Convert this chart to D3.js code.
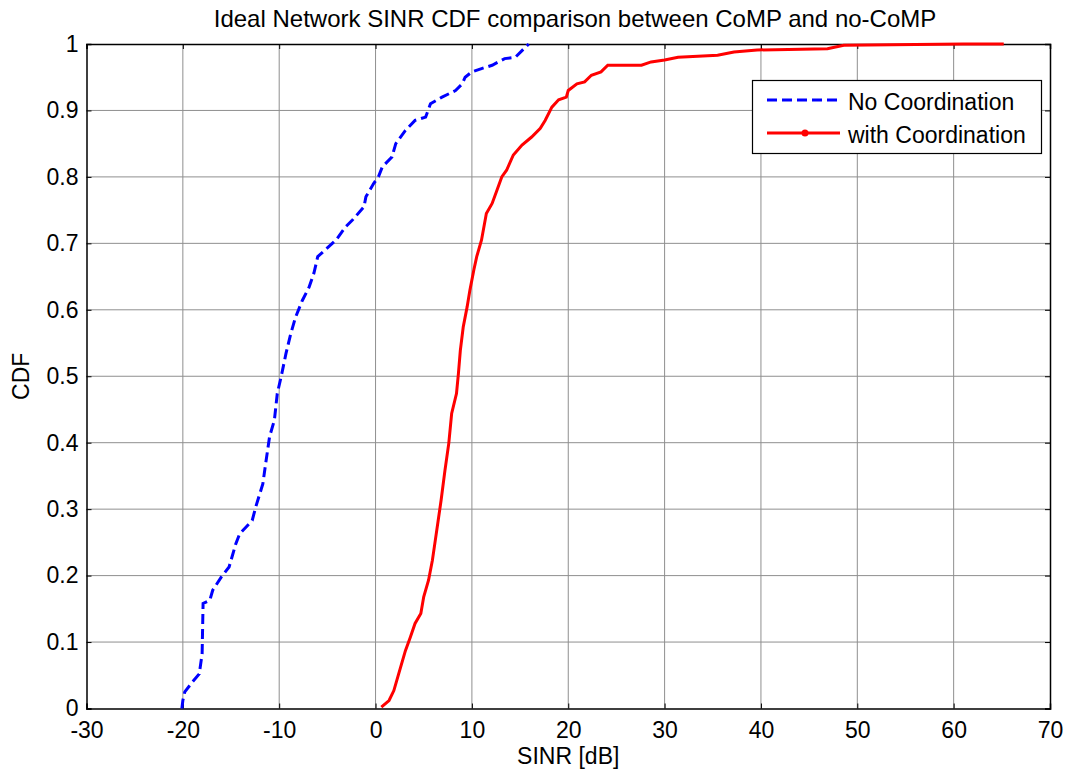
<!DOCTYPE html>
<html>
<head>
<meta charset="utf-8">
<script src="https://cdn.jsdelivr.net/npm/d3@7"></script>
<style>
  body { margin: 0; background: #fff; }
  svg text { font-family: "Liberation Sans", Arial, sans-serif; fill: #000; }
</style>
</head>
<body>
<svg id="chart" width="1070" height="769"></svg>
<script>
const title = "Ideal Network SINR CDF comparison between CoMP and no-CoMP";
const xLabel = "SINR [dB]";
const yLabel = "CDF";
const xTicks = [-30, -20, -10, 0, 10, 20, 30, 40, 50, 60, 70];
const yTicks = [0, 0.1, 0.2, 0.3, 0.4, 0.5, 0.6, 0.7, 0.8, 0.9, 1];
const seriesNames = ["No Coordination", "with Coordination"];

// No Coordination (blue dashed)
const noCoordX = [-20.1, -20.0, -19.8, -19.0, -18.3, -18.0, -17.9, -17.2, -16.9, -16.0, -15.2, -14.5, -14.1,
  -12.8, -12.4, -11.7, -11.4, -11.0, -10.5, -10.2, -9.8, -9.3, -8.8, -8.3, -7.6, -6.9, -6.4, -6.0,
  -4.1, -3.1, -2.4, -1.2, -1.0, -0.2, 0.3, 0.7, 1.7, 2.1, 3.1, 4.1, 5.2, 5.7, 6.9, 8.3, 9.0, 9.3,
  10.0, 11.0, 12.1, 13.4, 14.5, 15.2, 15.9];
const noCoordY = [0.0, 0.012, 0.025, 0.04, 0.052, 0.082, 0.158, 0.163, 0.178, 0.198, 0.213, 0.248, 0.263,
  0.283, 0.305, 0.338, 0.369, 0.409, 0.434, 0.474, 0.499, 0.534, 0.564, 0.589, 0.614, 0.634, 0.655, 0.68,
  0.705, 0.725, 0.735, 0.755, 0.77, 0.79, 0.80, 0.815, 0.83, 0.85, 0.87, 0.885, 0.89, 0.91, 0.92, 0.93, 0.94, 0.95,
  0.958, 0.963, 0.968, 0.978, 0.98, 0.99, 1.0];

// with Coordination (red solid)
const coordX = [0.6, 1.4, 1.9, 2.4, 3.1, 3.6, 4.1, 4.7, 5.0, 5.5, 5.9, 6.2, 6.5, 6.8, 7.2, 7.6, 7.9, 8.4, 8.6,
  8.8, 9.1, 9.5, 9.8, 10.2, 10.5, 11.0, 11.5, 12.1, 12.6, 13.1, 13.6, 14.3, 15.2, 16.2, 17.1, 17.6, 18.3,
  19.0, 19.8, 20.0, 20.9, 21.7, 22.4, 23.4, 24.1, 27.6, 28.6, 30.0, 31.4, 35.5, 37.2, 39.6, 46.9, 48.6, 61.0, 65.2];
const coordY = [0.002, 0.012, 0.027, 0.052, 0.087, 0.107, 0.128, 0.143, 0.168, 0.193, 0.223, 0.253, 0.283, 0.313,
  0.358, 0.399, 0.444, 0.474, 0.504, 0.539, 0.574, 0.604, 0.63, 0.66, 0.68, 0.705, 0.745, 0.76, 0.78, 0.80, 0.81,
  0.833, 0.848, 0.86, 0.873, 0.885, 0.905, 0.916, 0.92, 0.93, 0.94, 0.943, 0.953, 0.958, 0.968, 0.968, 0.973,
  0.976, 0.98, 0.983, 0.988, 0.991, 0.993, 0.998, 1.0, 1.0];

(function () {
const svg = d3.select("#chart");
const mLeft = 86.5, mRight = 1050, mTop = 44, mBottom = 708.5;
const x = d3.scaleLinear().domain([-30, 70]).range([mLeft, mRight]);
const y = d3.scaleLinear().domain([0, 1]).range([mBottom, mTop]);
const fontSize = 23;

// grid
const grid = svg.append("g");
grid.selectAll(".gx").data(xTicks.slice(1, -1)).join("line")
  .attr("x1", d => x(d)).attr("x2", d => x(d)).attr("y1", mTop).attr("y2", mBottom)
  .attr("stroke", "#8f8f8f").attr("stroke-width", 1);
grid.selectAll(".gy").data(yTicks.slice(1, -1)).join("line")
  .attr("x1", mLeft).attr("x2", mRight).attr("y1", d => y(d)).attr("y2", d => y(d))
  .attr("stroke", "#8f8f8f").attr("stroke-width", 1);

// axes (ticks inward)
const axB = svg.append("g").attr("transform", `translate(0,${mBottom})`)
  .call(d3.axisBottom(x).tickValues(xTicks).tickSize(-5).tickPadding(13).tickFormat(d => String(d)));
const axT = svg.append("g").attr("transform", `translate(0,${mTop})`)
  .call(d3.axisTop(x).tickValues(xTicks).tickSize(-5).tickFormat(""));
const axL = svg.append("g").attr("transform", `translate(${mLeft},0)`)
  .call(d3.axisLeft(y).tickValues(yTicks).tickSize(-5).tickPadding(8).tickFormat(d => String(+d.toFixed(1))));
const axR = svg.append("g").attr("transform", `translate(${mRight},0)`)
  .call(d3.axisRight(y).tickValues(yTicks).tickSize(-5).tickFormat(""));
[axB, axT, axL, axR].forEach(a => {
  a.select(".domain").attr("stroke", "#000").attr("stroke-width", 1.5);
  a.selectAll(".tick line").attr("stroke", "#000").attr("stroke-width", 1);
  a.selectAll("text").attr("font-size", fontSize).attr("font-family", "Liberation Sans, Arial, sans-serif").attr("fill", "#000");
});
axB.selectAll("text").attr("dy", "0.72em");

// lines
const line = d3.line().x(d => x(d[0])).y(d => y(d[1]));
const blueData = noCoordX.map((v, i) => [v, noCoordY[i]]);
const redData = coordX.map((v, i) => [v, coordY[i]]);
svg.append("clipPath").attr("id", "clip").append("rect")
  .attr("x", mLeft).attr("y", mTop - 2).attr("width", mRight - mLeft).attr("height", mBottom - mTop + 4);
svg.append("path").datum(redData).attr("d", line).attr("fill", "none")
  .attr("stroke", "#ff0000").attr("stroke-width", 3).attr("clip-path", "url(#clip)");
svg.append("path").datum(blueData).attr("d", line).attr("fill", "none")
  .attr("stroke", "#0000ff").attr("stroke-width", 3).attr("stroke-dasharray", "10,5").attr("clip-path", "url(#clip)");

// title & labels
svg.append("text").attr("x", 575).attr("y", 27).attr("text-anchor", "middle")
  .attr("font-size", 24).text(title);
svg.append("text").attr("x", (mLeft + mRight) / 2).attr("y", 764).attr("text-anchor", "middle")
  .attr("font-size", fontSize).text(xLabel);
svg.append("text").attr("transform", `translate(29,${(mTop + mBottom) / 2}) rotate(-90)`).attr("text-anchor", "middle")
  .attr("font-size", fontSize).text(yLabel);

// legend
const lg = svg.append("g");
lg.append("rect").attr("x", 752.5).attr("y", 80.5).attr("width", 289).attr("height", 73)
  .attr("fill", "#fff").attr("stroke", "#000").attr("stroke-width", 1.2);
const legY = [100, 133];
const colors = ["#0000ff", "#ff0000"];
seriesNames.forEach((name, i) => {
  lg.append("line").attr("x1", 767).attr("x2", 840).attr("y1", legY[i]).attr("y2", legY[i])
    .attr("stroke", colors[i]).attr("stroke-width", 3)
    .attr("stroke-dasharray", i === 0 ? "10,5" : null);
  if (i === 1) lg.append("circle").attr("cx", 805).attr("cy", legY[i]).attr("r", 3.5).attr("fill", colors[i]);
  lg.append("text").attr("x", 848).attr("y", legY[i] + 10).attr("font-size", 23).text(name);
});
})();
</script>
</body>
</html>
